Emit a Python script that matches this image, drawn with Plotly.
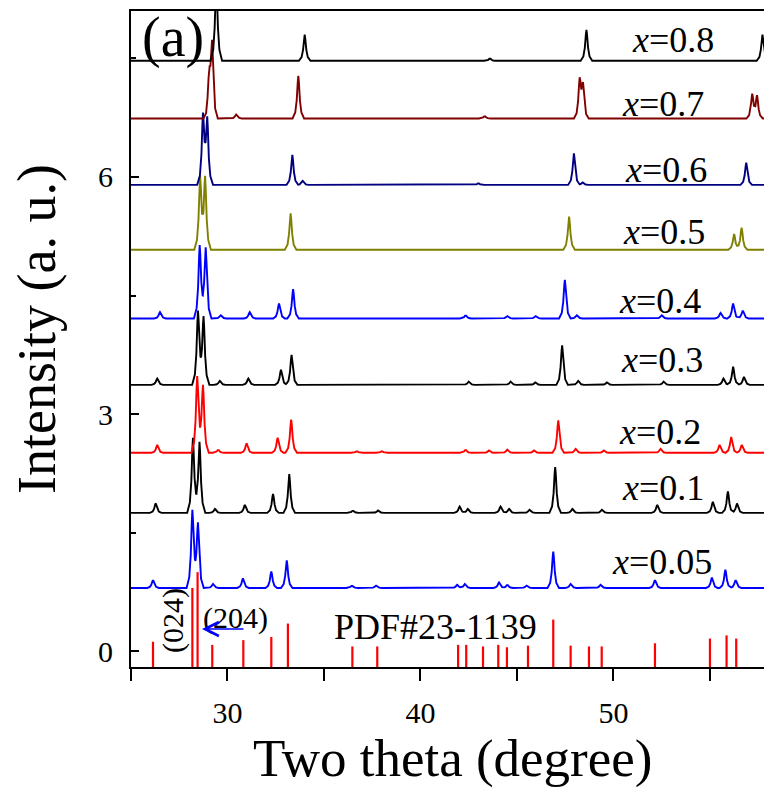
import numpy as np
import plotly.graph_objects as go

# ---------------- data ----------------
sample_labels = ["0.05", "0.1", "0.2", "0.3", "0.4", "0.5", "0.6", "0.7", "0.8"]
baselines = [0.80, 1.75, 2.51, 3.37, 4.21, 5.08, 5.90, 6.74, 7.47]
line_colors = ["#0000ff", "#000000", "#ff0000", "#000000", "#0000ff",
               "#808000", "#000080", "#800000", "#000000"]

pos_005 = [26.14, 28.18, 28.47, 29.25, 30.80, 32.27, 33.07, 36.45, 37.70, 41.90, 42.30,
           44.07, 44.50, 45.50, 46.88, 47.78, 49.33, 52.15, 55.10, 55.80, 56.33]
h_005 = [0.10, 0.98, 0.82, 0.05, 0.12, 0.21, 0.35, 0.03, 0.03, 0.04, 0.05,
         0.07, 0.04, 0.03, 0.46, 0.05, 0.04, 0.10, 0.13, 0.23, 0.10]

pos_01 = [26.28, 28.21, 28.55, 29.35, 30.90, 32.36, 33.20, 36.50, 37.80, 42.03, 42.45,
          44.15, 44.59, 45.65, 46.98, 47.87, 49.40, 52.27, 55.15, 55.93, 56.40]
h_01 = [0.12, 0.95, 0.90, 0.05, 0.10, 0.24, 0.49, 0.03, 0.03, 0.08, 0.05,
        0.08, 0.05, 0.04, 0.58, 0.05, 0.04, 0.10, 0.14, 0.27, 0.12]

pos_02 = [26.36, 28.43, 28.73, 29.52, 30.99, 32.60, 33.30, 36.70, 38.00, 42.34, 43.55,
          44.50, 45.88, 47.14, 48.04, 49.50, 52.44, 55.50, 56.10, 56.65]
h_02 = [0.10, 0.97, 0.86, 0.04, 0.12, 0.19, 0.42, 0.02, 0.02, 0.04, 0.03,
        0.04, 0.03, 0.41, 0.05, 0.03, 0.05, 0.10, 0.20, 0.10]

pos_03 = [26.36, 28.47, 28.76, 29.60, 31.08, 32.77, 33.32, 42.50, 44.67, 45.95,
          47.34, 48.17, 49.66, 52.60, 55.70, 56.20, 56.76]
h_03 = [0.08, 0.93, 0.86, 0.05, 0.08, 0.19, 0.38, 0.04, 0.04, 0.03,
        0.50, 0.05, 0.03, 0.04, 0.08, 0.23, 0.10]

pos_04 = [26.50, 28.56, 28.87, 29.65, 31.15, 32.67, 33.40, 42.34, 44.50, 45.97,
          47.48, 48.10, 52.50, 55.55, 56.20, 56.70]
h_04 = [0.08, 0.93, 0.90, 0.04, 0.08, 0.19, 0.37, 0.04, 0.03, 0.03,
        0.49, 0.04, 0.04, 0.07, 0.19, 0.10]

pos_05 = [28.58, 28.84, 33.27, 47.70, 56.25, 56.64]
h_05 = [0.90, 0.90, 0.46, 0.42, 0.20, 0.28]

pos_06 = [28.73, 28.95, 33.36, 33.90, 43.00, 47.95, 48.40, 56.88]
h_06 = [0.85, 0.80, 0.38, 0.05, 0.02, 0.40, 0.03, 0.28]

pos_07 = [29.05, 29.20, 30.45, 33.67, 43.33, 48.25, 48.42, 57.19, 57.44]
h_07 = [0.48, 0.91, 0.05, 0.54, 0.03, 0.47, 0.40, 0.30, 0.28]

pos_08 = [29.42, 34.00, 43.60, 48.60, 57.72]
h_08 = [1.00, 0.33, 0.03, 0.39, 0.33]

peak_positions = [pos_005, pos_01, pos_02, pos_03, pos_04, pos_05, pos_06, pos_07, pos_08]
peak_heights = [h_005, h_01, h_02, h_03, h_04, h_05, h_06, h_07, h_08]

# PDF#23-1139 reference lines
pdf_pos = [26.14, 28.18, 28.45, 29.21, 30.82, 32.27, 33.13, 36.47, 37.76, 41.95, 42.37,
           43.24, 44.03, 44.48, 45.57, 46.88, 47.78, 48.73, 49.39, 52.15, 55.00, 55.86, 56.36]
pdf_top = [0.12, 0.80, 1.00, 0.08, 0.14, 0.18, 0.35, 0.06, 0.06, 0.08, 0.08,
           0.06, 0.08, 0.05, 0.07, 0.40, 0.07, 0.06, 0.06, 0.10, 0.16, 0.20, 0.16]

x_ticks = [30, 40, 50]
y_ticks = [0, 3, 6]

# ---------------- layout constants ----------------
W, H = 764, 788
ML, MR, MT, MB = 131, 0, 11, 121
X_RANGE = [25, 57.8]
Y_RANGE = [-0.2, 8.1]
PW, PH = W - ML - MR, H - MT - MB


def px_x(px):
    return X_RANGE[0] + (px - ML) / PW * (X_RANGE[1] - X_RANGE[0])


def px_y(py):
    return Y_RANGE[1] - (py - MT) / PH * (Y_RANGE[1] - Y_RANGE[0])


# peak shape template (drawing style)
offs = np.array([-0.30, -0.16, -0.085, -0.03, 0.0, 0.03, 0.085, 0.16, 0.30])
frac = np.array([0.0, 0.14, 0.42, 0.85, 1.0, 0.85, 0.42, 0.14, 0.0])


def profile(base, pos, hts):
    xs = {X_RANGE[0], X_RANGE[1]}
    for p in pos:
        for o in offs:
            xs.add(round(p + o, 4))
    xs = np.array(sorted(xs))
    ys = np.full_like(xs, base, dtype=float)
    for p, hh in zip(pos, hts):
        ys += hh * np.interp(xs - p, offs, frac, left=0, right=0)
    return xs, ys


fig = go.Figure()

for base, pos, hts, col in zip(baselines, peak_positions, peak_heights, line_colors):
    xs, ys = profile(base, pos, hts)
    fig.add_trace(go.Scatter(x=xs, y=ys, mode="lines",
                             line=dict(color=col, width=1.9), showlegend=False,
                             hoverinfo="skip"))

# stick pattern
sx, sy = [], []
for p, t in zip(pdf_pos, pdf_top):
    sx += [p, p, None]
    sy += [Y_RANGE[0], t, None]
fig.add_trace(go.Scatter(x=sx, y=sy, mode="lines",
                         line=dict(color="#ff0000", width=2.2), showlegend=False,
                         hoverinfo="skip"))

FONT = "Liberation Serif"
ann = []

# sample labels  (left x px, center y px)
label_px = [(610, 562), (620, 488), (617, 432), (619, 360), (617, 301),
            (621, 232), (623, 170), (620, 104), (630, 40)]
for lab, (lx, ly) in zip(sample_labels, label_px):
    ann.append(dict(x=px_x(lx), y=px_y(ly), xref="x", yref="y",
                    text="<i>x</i>=" + lab, showarrow=False,
                    xanchor="left", yanchor="middle",
                    font=dict(family=FONT, size=36, color="black")))

# panel label
ann.append(dict(x=px_x(173), y=px_y(37), xref="x", yref="y", text="(a)",
                showarrow=False, xanchor="center", yanchor="middle",
                font=dict(family=FONT, size=56, color="black")))

# PDF label
ann.append(dict(x=px_x(435), y=px_y(627), xref="x", yref="y", text="PDF#23-1139",
                showarrow=False, xanchor="center", yanchor="middle",
                font=dict(family=FONT, size=36, color="black")))

# (204) and (024)
ann.append(dict(x=px_x(235), y=px_y(618), xref="x", yref="y", text="(204)",
                showarrow=False, xanchor="center", yanchor="middle",
                font=dict(family=FONT, size=30, color="black")))
ann.append(dict(x=px_x(173), y=px_y(621), xref="x", yref="y", text="(024)",
                showarrow=False, xanchor="center", yanchor="middle", textangle=-90,
                font=dict(family=FONT, size=30, color="black")))

# blue arrow
ann.append(dict(x=px_x(202), y=px_y(629), ax=px_x(245), ay=px_y(629),
                xref="x", yref="y", axref="x", ayref="y", text="",
                showarrow=True, arrowhead=5, arrowsize=1.7, arrowwidth=1.6,
                arrowcolor="#0000ff"))

# axis titles
ann.append(dict(x=(452 - ML) / PW, y=(H - MB - 759) / PH, xref="paper", yref="paper",
                text="Two theta (degree)", showarrow=False,
                xanchor="center", yanchor="middle",
                font=dict(family=FONT, size=53, color="black")))
ann.append(dict(x=(37 - ML) / PW, y=(H - MB - 329) / PH, xref="paper", yref="paper",
                text="Intensity (a. u.)", showarrow=False, textangle=-90,
                xanchor="center", yanchor="middle",
                font=dict(family=FONT, size=54, color="black")))

fig.update_layout(
    width=W, height=H,
    margin=dict(l=ML, r=MR, t=MT, b=MB, pad=0),
    paper_bgcolor="white", plot_bgcolor="white",
    font=dict(family=FONT, color="black"),
    showlegend=False,
    annotations=ann,
    xaxis=dict(range=X_RANGE, showgrid=False, zeroline=False,
               showline=True, linecolor="black", linewidth=2, mirror=True,
               ticks="outside", ticklen=12, tickwidth=2, tickcolor="black",
               tickvals=x_ticks, ticktext=[str(v) for v in x_ticks],
               tickfont=dict(family=FONT, size=30, color="black"),
               ticklabelstandoff=6,
               minor=dict(dtick=5, tick0=0, ticks="outside", ticklen=12,
                          tickwidth=2, tickcolor="black", showgrid=False)),
    yaxis=dict(range=Y_RANGE, showgrid=False, zeroline=False,
               showline=True, linecolor="black", linewidth=2, mirror=False,
               ticks="inside", ticklen=8, tickwidth=2, tickcolor="black",
               tickvals=y_ticks, ticktext=[str(v) for v in y_ticks],
               tickfont=dict(family=FONT, size=30, color="black"),
               ticklabelstandoff=10,
               minor=dict(dtick=1.5, tick0=0, ticks="inside", ticklen=5,
                          tickwidth=2, tickcolor="black", showgrid=False)),
)

fig.write_html("out.html",
               config={"displayModeBar": False},
               post_script="document.body.style.margin='0px';"
                           "document.body.style.overflow='hidden';")
